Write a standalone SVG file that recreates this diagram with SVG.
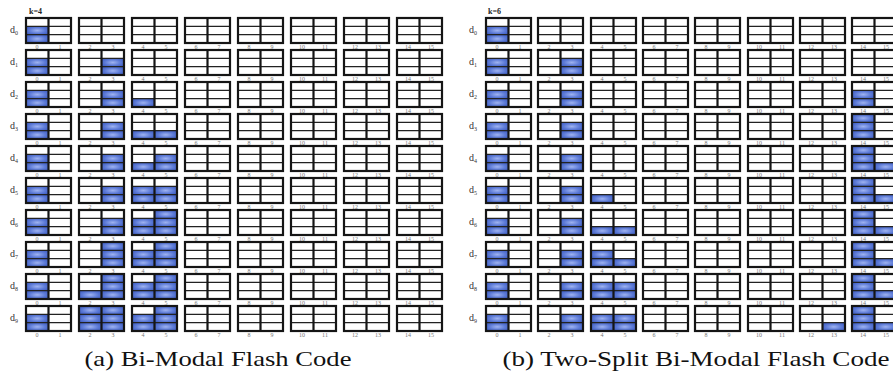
<svg xmlns="http://www.w3.org/2000/svg" xmlns:xlink="http://www.w3.org/1999/xlink" width="893" height="374" viewBox="0 0 893 374">
<style>
.bg{fill:#ffffff}
.f{fill:url(#bl)}
.ol{fill:none;stroke:#151515;stroke-width:2.2}
.vl{stroke:#151515;stroke-width:2.2}
.hl{stroke:#222;stroke-width:1.3}
.n{font-family:"Liberation Serif","DejaVu Serif",serif;font-size:6px;fill:#777;text-anchor:middle}
.rl{font-family:"Liberation Serif","DejaVu Serif",serif;font-size:10px;fill:#333}
.sb{font-size:6px}
.k{font-family:"Liberation Serif","DejaVu Serif",serif;font-size:8px;font-weight:bold;fill:#222}
.cap{font-family:"Liberation Serif","DejaVu Serif",serif;font-size:21px;fill:#111;text-anchor:middle}
</style>
<defs>
<radialGradient id="bl" cx="0.5" cy="0.5" r="0.65">
<stop offset="0" stop-color="#9fb3f0"/>
<stop offset="0.55" stop-color="#5b79d6"/>
<stop offset="1" stop-color="#3a58bd"/>
</radialGradient>
<g id="blk">
<line class="hl" x1="0" y1="8.33" x2="45" y2="8.33"/>
<line class="hl" x1="0" y1="16.67" x2="45" y2="16.67"/>
<line class="vl" x1="22.5" y1="0" x2="22.5" y2="25"/>
<rect class="ol" x="0" y="0" width="45" height="25"/>
</g>
<rect id="LT" class="f" x="0" y="0" width="22.5" height="8.33"/>
<rect id="LM" class="f" x="0" y="8.33" width="22.5" height="8.34"/>
<rect id="LB" class="f" x="0" y="16.67" width="22.5" height="8.33"/>
<rect id="RT" class="f" x="22.5" y="0" width="22.5" height="8.33"/>
<rect id="RM" class="f" x="22.5" y="8.33" width="22.5" height="8.34"/>
<rect id="RB" class="f" x="22.5" y="16.67" width="22.5" height="8.33"/>
<g id="rowA">
<use href="#blk" x="26"/><use href="#blk" x="79"/><use href="#blk" x="132"/><use href="#blk" x="185"/><use href="#blk" x="238"/><use href="#blk" x="291"/><use href="#blk" x="344"/><use href="#blk" x="397"/>
</g>
<g id="rowB">
<use href="#blk" x="486"/><use href="#blk" x="538"/><use href="#blk" x="591"/><use href="#blk" x="643"/><use href="#blk" x="695"/><use href="#blk" x="748"/><use href="#blk" x="800"/><use href="#blk" x="852"/>
</g>
</defs>
<rect class="bg" x="0" y="0" width="893" height="374"/>

<g id="panel-a">
<text class="k" x="29" y="14">k=4</text>
<g id="a-d0">
<use href="#LM" x="26" y="18"/><use href="#LB" x="26" y="18"/>
<use href="#rowA" y="18"/>
<text class="rl" x="10" y="33">d<tspan class="sb" dy="2">0</tspan></text>
</g>
<g id="a-d1">
<use href="#LM" x="26" y="50"/><use href="#LB" x="26" y="50"/>
<use href="#RM" x="79" y="50"/><use href="#RB" x="79" y="50"/>
<use href="#rowA" y="50"/>
<text class="rl" x="10" y="65">d<tspan class="sb" dy="2">1</tspan></text>
</g>
<g id="a-d2">
<use href="#LM" x="26" y="82"/><use href="#LB" x="26" y="82"/>
<use href="#RM" x="79" y="82"/><use href="#RB" x="79" y="82"/>
<use href="#LB" x="132" y="82"/>
<use href="#rowA" y="82"/>
<text class="rl" x="10" y="97">d<tspan class="sb" dy="2">2</tspan></text>
</g>
<g id="a-d3">
<use href="#LM" x="26" y="114"/><use href="#LB" x="26" y="114"/>
<use href="#RM" x="79" y="114"/><use href="#RB" x="79" y="114"/>
<use href="#LB" x="132" y="114"/><use href="#RB" x="132" y="114"/>
<use href="#rowA" y="114"/>
<text class="rl" x="10" y="129">d<tspan class="sb" dy="2">3</tspan></text>
</g>
<g id="a-d4">
<use href="#LM" x="26" y="146"/><use href="#LB" x="26" y="146"/>
<use href="#RM" x="79" y="146"/><use href="#RB" x="79" y="146"/>
<use href="#LB" x="132" y="146"/><use href="#RM" x="132" y="146"/><use href="#RB" x="132" y="146"/>
<use href="#rowA" y="146"/>
<text class="rl" x="10" y="161">d<tspan class="sb" dy="2">4</tspan></text>
</g>
<g id="a-d5">
<use href="#LM" x="26" y="178"/><use href="#LB" x="26" y="178"/>
<use href="#RM" x="79" y="178"/><use href="#RB" x="79" y="178"/>
<use href="#LM" x="132" y="178"/><use href="#LB" x="132" y="178"/><use href="#RM" x="132" y="178"/><use href="#RB" x="132" y="178"/>
<use href="#rowA" y="178"/>
<text class="rl" x="10" y="193">d<tspan class="sb" dy="2">5</tspan></text>
</g>
<g id="a-d6">
<use href="#LM" x="26" y="210"/><use href="#LB" x="26" y="210"/>
<use href="#RM" x="79" y="210"/><use href="#RB" x="79" y="210"/>
<use href="#LM" x="132" y="210"/><use href="#LB" x="132" y="210"/><use href="#RT" x="132" y="210"/><use href="#RM" x="132" y="210"/><use href="#RB" x="132" y="210"/>
<use href="#rowA" y="210"/>
<text class="rl" x="10" y="225">d<tspan class="sb" dy="2">6</tspan></text>
</g>
<g id="a-d7">
<use href="#LM" x="26" y="242"/><use href="#LB" x="26" y="242"/>
<use href="#RT" x="79" y="242"/><use href="#RM" x="79" y="242"/><use href="#RB" x="79" y="242"/>
<use href="#LM" x="132" y="242"/><use href="#LB" x="132" y="242"/><use href="#RT" x="132" y="242"/><use href="#RM" x="132" y="242"/><use href="#RB" x="132" y="242"/>
<use href="#rowA" y="242"/>
<text class="rl" x="10" y="257">d<tspan class="sb" dy="2">7</tspan></text>
</g>
<g id="a-d8">
<use href="#LM" x="26" y="274"/><use href="#LB" x="26" y="274"/>
<use href="#LB" x="79" y="274"/><use href="#RT" x="79" y="274"/><use href="#RM" x="79" y="274"/><use href="#RB" x="79" y="274"/>
<use href="#LM" x="132" y="274"/><use href="#LB" x="132" y="274"/><use href="#RT" x="132" y="274"/><use href="#RM" x="132" y="274"/><use href="#RB" x="132" y="274"/>
<use href="#rowA" y="274"/>
<text class="rl" x="10" y="289">d<tspan class="sb" dy="2">8</tspan></text>
</g>
<g id="a-d9">
<use href="#LM" x="26" y="306"/><use href="#LB" x="26" y="306"/>
<use href="#LT" x="79" y="306"/><use href="#LM" x="79" y="306"/><use href="#LB" x="79" y="306"/><use href="#RT" x="79" y="306"/><use href="#RM" x="79" y="306"/><use href="#RB" x="79" y="306"/>
<use href="#LM" x="132" y="306"/><use href="#LB" x="132" y="306"/><use href="#RT" x="132" y="306"/><use href="#RM" x="132" y="306"/><use href="#RB" x="132" y="306"/>
<use href="#rowA" y="306"/>
<text class="rl" x="10" y="321">d<tspan class="sb" dy="2">9</tspan></text>
</g>
<g id="a-nums">
<text class="n" y="49"><tspan x="37">0</tspan><tspan x="60">1</tspan><tspan x="90">2</tspan><tspan x="113">3</tspan><tspan x="143">4</tspan><tspan x="166">5</tspan><tspan x="196">6</tspan><tspan x="219">7</tspan><tspan x="249">8</tspan><tspan x="272">9</tspan><tspan x="302">10</tspan><tspan x="325">11</tspan><tspan x="355">12</tspan><tspan x="378">13</tspan><tspan x="408">14</tspan><tspan x="431">15</tspan></text>
<text class="n" y="81"><tspan x="37">0</tspan><tspan x="60">1</tspan><tspan x="90">2</tspan><tspan x="113">3</tspan><tspan x="143">4</tspan><tspan x="166">5</tspan><tspan x="196">6</tspan><tspan x="219">7</tspan><tspan x="249">8</tspan><tspan x="272">9</tspan><tspan x="302">10</tspan><tspan x="325">11</tspan><tspan x="355">12</tspan><tspan x="378">13</tspan><tspan x="408">14</tspan><tspan x="431">15</tspan></text>
<text class="n" y="113"><tspan x="37">0</tspan><tspan x="60">1</tspan><tspan x="90">2</tspan><tspan x="113">3</tspan><tspan x="143">4</tspan><tspan x="166">5</tspan><tspan x="196">6</tspan><tspan x="219">7</tspan><tspan x="249">8</tspan><tspan x="272">9</tspan><tspan x="302">10</tspan><tspan x="325">11</tspan><tspan x="355">12</tspan><tspan x="378">13</tspan><tspan x="408">14</tspan><tspan x="431">15</tspan></text>
<text class="n" y="145"><tspan x="37">0</tspan><tspan x="60">1</tspan><tspan x="90">2</tspan><tspan x="113">3</tspan><tspan x="143">4</tspan><tspan x="166">5</tspan><tspan x="196">6</tspan><tspan x="219">7</tspan><tspan x="249">8</tspan><tspan x="272">9</tspan><tspan x="302">10</tspan><tspan x="325">11</tspan><tspan x="355">12</tspan><tspan x="378">13</tspan><tspan x="408">14</tspan><tspan x="431">15</tspan></text>
<text class="n" y="177"><tspan x="37">0</tspan><tspan x="60">1</tspan><tspan x="90">2</tspan><tspan x="113">3</tspan><tspan x="143">4</tspan><tspan x="166">5</tspan><tspan x="196">6</tspan><tspan x="219">7</tspan><tspan x="249">8</tspan><tspan x="272">9</tspan><tspan x="302">10</tspan><tspan x="325">11</tspan><tspan x="355">12</tspan><tspan x="378">13</tspan><tspan x="408">14</tspan><tspan x="431">15</tspan></text>
<text class="n" y="209"><tspan x="37">0</tspan><tspan x="60">1</tspan><tspan x="90">2</tspan><tspan x="113">3</tspan><tspan x="143">4</tspan><tspan x="166">5</tspan><tspan x="196">6</tspan><tspan x="219">7</tspan><tspan x="249">8</tspan><tspan x="272">9</tspan><tspan x="302">10</tspan><tspan x="325">11</tspan><tspan x="355">12</tspan><tspan x="378">13</tspan><tspan x="408">14</tspan><tspan x="431">15</tspan></text>
<text class="n" y="241"><tspan x="37">0</tspan><tspan x="60">1</tspan><tspan x="90">2</tspan><tspan x="113">3</tspan><tspan x="143">4</tspan><tspan x="166">5</tspan><tspan x="196">6</tspan><tspan x="219">7</tspan><tspan x="249">8</tspan><tspan x="272">9</tspan><tspan x="302">10</tspan><tspan x="325">11</tspan><tspan x="355">12</tspan><tspan x="378">13</tspan><tspan x="408">14</tspan><tspan x="431">15</tspan></text>
<text class="n" y="273"><tspan x="37">0</tspan><tspan x="60">1</tspan><tspan x="90">2</tspan><tspan x="113">3</tspan><tspan x="143">4</tspan><tspan x="166">5</tspan><tspan x="196">6</tspan><tspan x="219">7</tspan><tspan x="249">8</tspan><tspan x="272">9</tspan><tspan x="302">10</tspan><tspan x="325">11</tspan><tspan x="355">12</tspan><tspan x="378">13</tspan><tspan x="408">14</tspan><tspan x="431">15</tspan></text>
<text class="n" y="305"><tspan x="37">0</tspan><tspan x="60">1</tspan><tspan x="90">2</tspan><tspan x="113">3</tspan><tspan x="143">4</tspan><tspan x="166">5</tspan><tspan x="196">6</tspan><tspan x="219">7</tspan><tspan x="249">8</tspan><tspan x="272">9</tspan><tspan x="302">10</tspan><tspan x="325">11</tspan><tspan x="355">12</tspan><tspan x="378">13</tspan><tspan x="408">14</tspan><tspan x="431">15</tspan></text>
<text class="n" y="337"><tspan x="37">0</tspan><tspan x="60">1</tspan><tspan x="90">2</tspan><tspan x="113">3</tspan><tspan x="143">4</tspan><tspan x="166">5</tspan><tspan x="196">6</tspan><tspan x="219">7</tspan><tspan x="249">8</tspan><tspan x="272">9</tspan><tspan x="302">10</tspan><tspan x="325">11</tspan><tspan x="355">12</tspan><tspan x="378">13</tspan><tspan x="408">14</tspan><tspan x="431">15</tspan></text>
</g>
<text id="cap-a" class="cap" x="218" y="366" textLength="267" lengthAdjust="spacingAndGlyphs">(a) Bi-Modal Flash Code</text>
</g>

<g id="panel-b">
<text class="k" x="488" y="14">k=6</text>
<g id="b-d0">
<use href="#LM" x="486" y="18"/><use href="#LB" x="486" y="18"/>
<use href="#rowB" y="18"/>
<text class="rl" x="469" y="33">d<tspan class="sb" dy="2">0</tspan></text>
</g>
<g id="b-d1">
<use href="#LM" x="486" y="50"/><use href="#LB" x="486" y="50"/>
<use href="#RM" x="538" y="50"/><use href="#RB" x="538" y="50"/>
<use href="#rowB" y="50"/>
<text class="rl" x="469" y="65">d<tspan class="sb" dy="2">1</tspan></text>
</g>
<g id="b-d2">
<use href="#LM" x="486" y="82"/><use href="#LB" x="486" y="82"/>
<use href="#RM" x="538" y="82"/><use href="#RB" x="538" y="82"/>
<use href="#LM" x="852" y="82"/><use href="#LB" x="852" y="82"/>
<use href="#rowB" y="82"/>
<text class="rl" x="469" y="97">d<tspan class="sb" dy="2">2</tspan></text>
</g>
<g id="b-d3">
<use href="#LM" x="486" y="114"/><use href="#LB" x="486" y="114"/>
<use href="#RM" x="538" y="114"/><use href="#RB" x="538" y="114"/>
<use href="#LT" x="852" y="114"/><use href="#LM" x="852" y="114"/><use href="#LB" x="852" y="114"/>
<use href="#rowB" y="114"/>
<text class="rl" x="469" y="129">d<tspan class="sb" dy="2">3</tspan></text>
</g>
<g id="b-d4">
<use href="#LM" x="486" y="146"/><use href="#LB" x="486" y="146"/>
<use href="#RM" x="538" y="146"/><use href="#RB" x="538" y="146"/>
<use href="#LT" x="852" y="146"/><use href="#LM" x="852" y="146"/><use href="#LB" x="852" y="146"/><use href="#RB" x="852" y="146"/>
<use href="#rowB" y="146"/>
<text class="rl" x="469" y="161">d<tspan class="sb" dy="2">4</tspan></text>
</g>
<g id="b-d5">
<use href="#LM" x="486" y="178"/><use href="#LB" x="486" y="178"/>
<use href="#RM" x="538" y="178"/><use href="#RB" x="538" y="178"/>
<use href="#LB" x="591" y="178"/>
<use href="#LT" x="852" y="178"/><use href="#LM" x="852" y="178"/><use href="#LB" x="852" y="178"/><use href="#RB" x="852" y="178"/>
<use href="#rowB" y="178"/>
<text class="rl" x="469" y="193">d<tspan class="sb" dy="2">5</tspan></text>
</g>
<g id="b-d6">
<use href="#LM" x="486" y="210"/><use href="#LB" x="486" y="210"/>
<use href="#RM" x="538" y="210"/><use href="#RB" x="538" y="210"/>
<use href="#LB" x="591" y="210"/><use href="#RB" x="591" y="210"/>
<use href="#LT" x="852" y="210"/><use href="#LM" x="852" y="210"/><use href="#LB" x="852" y="210"/><use href="#RB" x="852" y="210"/>
<use href="#rowB" y="210"/>
<text class="rl" x="469" y="225">d<tspan class="sb" dy="2">6</tspan></text>
</g>
<g id="b-d7">
<use href="#LM" x="486" y="242"/><use href="#LB" x="486" y="242"/>
<use href="#RM" x="538" y="242"/><use href="#RB" x="538" y="242"/>
<use href="#LM" x="591" y="242"/><use href="#LB" x="591" y="242"/><use href="#RB" x="591" y="242"/>
<use href="#LT" x="852" y="242"/><use href="#LM" x="852" y="242"/><use href="#LB" x="852" y="242"/><use href="#RB" x="852" y="242"/>
<use href="#rowB" y="242"/>
<text class="rl" x="469" y="257">d<tspan class="sb" dy="2">7</tspan></text>
</g>
<g id="b-d8">
<use href="#LM" x="486" y="274"/><use href="#LB" x="486" y="274"/>
<use href="#RM" x="538" y="274"/><use href="#RB" x="538" y="274"/>
<use href="#LM" x="591" y="274"/><use href="#LB" x="591" y="274"/><use href="#RM" x="591" y="274"/><use href="#RB" x="591" y="274"/>
<use href="#LT" x="852" y="274"/><use href="#LM" x="852" y="274"/><use href="#LB" x="852" y="274"/><use href="#RB" x="852" y="274"/>
<use href="#rowB" y="274"/>
<text class="rl" x="469" y="289">d<tspan class="sb" dy="2">8</tspan></text>
</g>
<g id="b-d9">
<use href="#LM" x="486" y="306"/><use href="#LB" x="486" y="306"/>
<use href="#RM" x="538" y="306"/><use href="#RB" x="538" y="306"/>
<use href="#LM" x="591" y="306"/><use href="#LB" x="591" y="306"/><use href="#RM" x="591" y="306"/><use href="#RB" x="591" y="306"/>
<use href="#RB" x="800" y="306"/>
<use href="#LT" x="852" y="306"/><use href="#LM" x="852" y="306"/><use href="#LB" x="852" y="306"/><use href="#RB" x="852" y="306"/>
<use href="#rowB" y="306"/>
<text class="rl" x="469" y="321">d<tspan class="sb" dy="2">9</tspan></text>
</g>
<g id="b-nums">
<text class="n" y="49"><tspan x="497">0</tspan><tspan x="520">1</tspan><tspan x="549">2</tspan><tspan x="572">3</tspan><tspan x="602">4</tspan><tspan x="625">5</tspan><tspan x="654">6</tspan><tspan x="677">7</tspan><tspan x="706">8</tspan><tspan x="729">9</tspan><tspan x="759">10</tspan><tspan x="782">11</tspan><tspan x="811">12</tspan><tspan x="834">13</tspan><tspan x="863">14</tspan><tspan x="886">15</tspan></text>
<text class="n" y="81"><tspan x="497">0</tspan><tspan x="520">1</tspan><tspan x="549">2</tspan><tspan x="572">3</tspan><tspan x="602">4</tspan><tspan x="625">5</tspan><tspan x="654">6</tspan><tspan x="677">7</tspan><tspan x="706">8</tspan><tspan x="729">9</tspan><tspan x="759">10</tspan><tspan x="782">11</tspan><tspan x="811">12</tspan><tspan x="834">13</tspan><tspan x="863">14</tspan><tspan x="886">15</tspan></text>
<text class="n" y="113"><tspan x="497">0</tspan><tspan x="520">1</tspan><tspan x="549">2</tspan><tspan x="572">3</tspan><tspan x="602">4</tspan><tspan x="625">5</tspan><tspan x="654">6</tspan><tspan x="677">7</tspan><tspan x="706">8</tspan><tspan x="729">9</tspan><tspan x="759">10</tspan><tspan x="782">11</tspan><tspan x="811">12</tspan><tspan x="834">13</tspan><tspan x="863">14</tspan><tspan x="886">15</tspan></text>
<text class="n" y="145"><tspan x="497">0</tspan><tspan x="520">1</tspan><tspan x="549">2</tspan><tspan x="572">3</tspan><tspan x="602">4</tspan><tspan x="625">5</tspan><tspan x="654">6</tspan><tspan x="677">7</tspan><tspan x="706">8</tspan><tspan x="729">9</tspan><tspan x="759">10</tspan><tspan x="782">11</tspan><tspan x="811">12</tspan><tspan x="834">13</tspan><tspan x="863">14</tspan><tspan x="886">15</tspan></text>
<text class="n" y="177"><tspan x="497">0</tspan><tspan x="520">1</tspan><tspan x="549">2</tspan><tspan x="572">3</tspan><tspan x="602">4</tspan><tspan x="625">5</tspan><tspan x="654">6</tspan><tspan x="677">7</tspan><tspan x="706">8</tspan><tspan x="729">9</tspan><tspan x="759">10</tspan><tspan x="782">11</tspan><tspan x="811">12</tspan><tspan x="834">13</tspan><tspan x="863">14</tspan><tspan x="886">15</tspan></text>
<text class="n" y="209"><tspan x="497">0</tspan><tspan x="520">1</tspan><tspan x="549">2</tspan><tspan x="572">3</tspan><tspan x="602">4</tspan><tspan x="625">5</tspan><tspan x="654">6</tspan><tspan x="677">7</tspan><tspan x="706">8</tspan><tspan x="729">9</tspan><tspan x="759">10</tspan><tspan x="782">11</tspan><tspan x="811">12</tspan><tspan x="834">13</tspan><tspan x="863">14</tspan><tspan x="886">15</tspan></text>
<text class="n" y="241"><tspan x="497">0</tspan><tspan x="520">1</tspan><tspan x="549">2</tspan><tspan x="572">3</tspan><tspan x="602">4</tspan><tspan x="625">5</tspan><tspan x="654">6</tspan><tspan x="677">7</tspan><tspan x="706">8</tspan><tspan x="729">9</tspan><tspan x="759">10</tspan><tspan x="782">11</tspan><tspan x="811">12</tspan><tspan x="834">13</tspan><tspan x="863">14</tspan><tspan x="886">15</tspan></text>
<text class="n" y="273"><tspan x="497">0</tspan><tspan x="520">1</tspan><tspan x="549">2</tspan><tspan x="572">3</tspan><tspan x="602">4</tspan><tspan x="625">5</tspan><tspan x="654">6</tspan><tspan x="677">7</tspan><tspan x="706">8</tspan><tspan x="729">9</tspan><tspan x="759">10</tspan><tspan x="782">11</tspan><tspan x="811">12</tspan><tspan x="834">13</tspan><tspan x="863">14</tspan><tspan x="886">15</tspan></text>
<text class="n" y="305"><tspan x="497">0</tspan><tspan x="520">1</tspan><tspan x="549">2</tspan><tspan x="572">3</tspan><tspan x="602">4</tspan><tspan x="625">5</tspan><tspan x="654">6</tspan><tspan x="677">7</tspan><tspan x="706">8</tspan><tspan x="729">9</tspan><tspan x="759">10</tspan><tspan x="782">11</tspan><tspan x="811">12</tspan><tspan x="834">13</tspan><tspan x="863">14</tspan><tspan x="886">15</tspan></text>
<text class="n" y="337"><tspan x="497">0</tspan><tspan x="520">1</tspan><tspan x="549">2</tspan><tspan x="572">3</tspan><tspan x="602">4</tspan><tspan x="625">5</tspan><tspan x="654">6</tspan><tspan x="677">7</tspan><tspan x="706">8</tspan><tspan x="729">9</tspan><tspan x="759">10</tspan><tspan x="782">11</tspan><tspan x="811">12</tspan><tspan x="834">13</tspan><tspan x="863">14</tspan><tspan x="886">15</tspan></text>
</g>
<text id="cap-b" class="cap" x="696" y="366" textLength="387" lengthAdjust="spacingAndGlyphs">(b) Two-Split Bi-Modal Flash Code</text>
</g>
</svg>
